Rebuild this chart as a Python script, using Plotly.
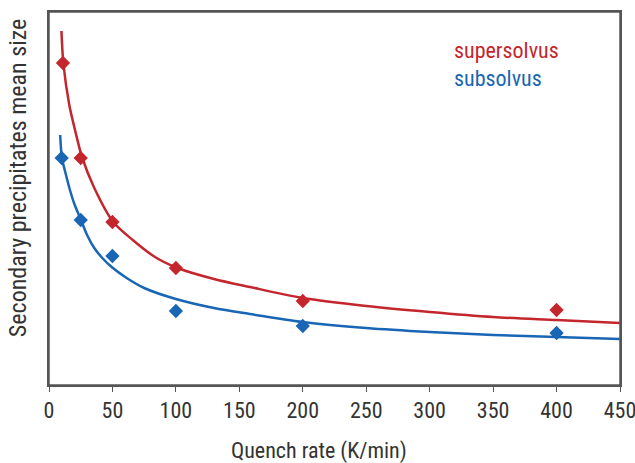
import plotly.graph_objects as go

# Measured points (quench rate in K/min, mean size in arbitrary units)
super_rate = [11, 25, 50, 100, 200, 400]
supersolvus_size = [322, 227, 163, 117, 84, 75]
sub_rate = [10, 25, 50, 100, 200, 400]
subsolvus_size = [227, 165, 129, 74, 59, 52]

# Fitted trend curves
super_fit_x = [9.8, 11.3, 16, 20.5, 26, 35.7, 50.6, 66, 83.5, 101.3, 130, 158.3, 200, 250, 300, 350, 400, 450]
super_fit_y = [354, 322, 280, 255, 228, 197, 163, 145, 128, 117, 106, 98, 87, 79, 73, 68, 65, 62]
sub_fit_x = [8.8, 10.2, 13, 16.5, 20, 25.2, 30, 35.7, 42, 49.4, 61.2, 75, 100, 130, 158.3, 200, 250, 300, 350, 400, 450]
sub_fit_y = [250, 227, 212, 195, 181, 165, 150, 137, 127, 118, 107, 97, 86, 77, 71, 63, 57, 53, 50, 48, 46]

x_ticks = [0, 50, 100, 150, 200, 250, 300, 350, 400, 450]

RED = "#c4262e"
BLUE = "#1866b4"
TXT = "#333333"
FRAME = "#555555"
FONT = "Liberation Sans Narrow, Roboto Condensed, DejaVu Sans Condensed, Arial Narrow, sans-serif"

fig = go.Figure()
fig.add_trace(go.Scatter(x=super_fit_x, y=super_fit_y, mode="lines",
                         line=dict(color=RED, width=2.5, shape="spline", smoothing=0.8),
                         showlegend=False, hoverinfo="skip"))
fig.add_trace(go.Scatter(x=sub_fit_x, y=sub_fit_y, mode="lines",
                         line=dict(color=BLUE, width=2.5, shape="spline", smoothing=0.8),
                         showlegend=False, hoverinfo="skip"))
fig.add_trace(go.Scatter(x=super_rate, y=supersolvus_size, mode="markers",
                         marker=dict(symbol="diamond", size=11, color=RED),
                         name="supersolvus", showlegend=False))
fig.add_trace(go.Scatter(x=sub_rate, y=subsolvus_size, mode="markers",
                         marker=dict(symbol="diamond", size=11, color=BLUE),
                         name="subsolvus", showlegend=False))

fig.add_annotation(x=0.705, y=0.898, xref="paper", yref="paper", xanchor="left", yanchor="middle",
                   text="supersolvus", showarrow=False, font=dict(family=FONT, size=22, color=RED))
fig.add_annotation(x=0.705, y=0.823, xref="paper", yref="paper", xanchor="left", yanchor="middle",
                   text="subsolvus", showarrow=False, font=dict(family=FONT, size=22, color=BLUE))

# Axis titles placed as in the reference (slightly off-centre)
fig.add_annotation(x=0.472, y=-0.178, xref="paper", yref="paper", xanchor="center", yanchor="middle",
                   text="Quench rate (K/min)", showarrow=False,
                   font=dict(family=FONT, size=22, color=TXT))
fig.add_annotation(x=-0.054, y=0.555, xref="paper", yref="paper", xanchor="center", yanchor="middle",
                   text="Secondary precipitates mean size", textangle=-90, showarrow=False,
                   font=dict(family=FONT, size=24, color=TXT))

# Frame around the plotting area
fig.add_shape(type="rect", xref="paper", yref="paper", x0=0, x1=1, y0=0, y1=1,
              line=dict(color=FRAME, width=1.5), fillcolor="rgba(0,0,0,0)", layer="above")

fig.update_layout(
    width=635, height=463,
    margin=dict(l=49, r=15, t=12, b=78),
    plot_bgcolor="white", paper_bgcolor="white",
    font=dict(family=FONT, size=22, color=TXT),
)
fig.update_xaxes(range=[0, 450], tickvals=x_ticks, ticktext=[str(v) for v in x_ticks],
                 automargin=False, ticklabeloverflow="allow",
                 showline=True, linecolor=FRAME, linewidth=1.5, mirror=True,
                 ticks="outside", ticklen=5, tickcolor=FRAME, tickwidth=1.2,
                 showgrid=False, zeroline=False,
                 tickfont=dict(family=FONT, size=22, color=TXT))
fig.update_yaxes(range=[0, 373], showticklabels=False, ticks="",
                 automargin=False,
                 showline=True, linecolor=FRAME, linewidth=1.5, mirror=True,
                 showgrid=False, zeroline=False)

fig.write_html("out.html", config={"displayModeBar": False},
               post_script="document.body.style.margin='0';document.body.style.overflow='hidden';")
